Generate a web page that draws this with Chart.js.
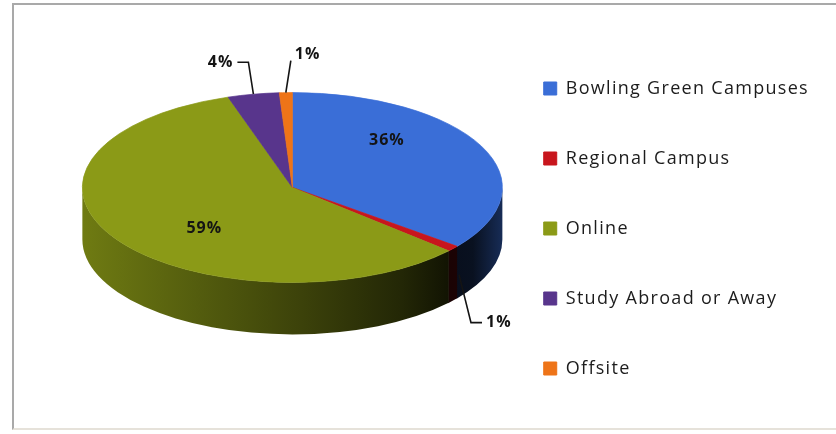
<!DOCTYPE html>
<html>
<head>
<meta charset="utf-8">
<script src="https://cdn.jsdelivr.net/npm/chart.js@4"></script>
<style>
  html, body { margin: 0; padding: 0; background: #fff; overflow: hidden; }
  #frame { position: absolute; left: 12px; top: 3px; width: 830px; height: 427px; border: 2px solid #a9a9a9; border-right: none; border-bottom-color: #e6e2da; box-sizing: border-box; }
  #wrap { position: absolute; left: 0; top: 0; width: 836px; height: 434px; }
</style>
</head>
<body>
<div id="frame"></div>
<div id="wrap"><canvas id="campusChart"></canvas></div>
<script>
const campuses = ['Bowling Green Campuses', 'Regional Campus', 'Online', 'Study Abroad or Away', 'Offsite'];
const shares = [36, 1, 59, 4, 1];
const sliceColors = ['#3a6ed7', '#c8161d', '#8b9a17', '#58358c', '#ee7418'];

// brightness of the pie's outer wall from left to right
const wallStops = [[0, 0.8], [0.28, 0.6], [0.52, 0.43], [0.76, 0.25], [0.87, 0.13], [0.93, 0.15], [1, 0.4]];

function shade(hex, f) {
  const n = parseInt(hex.slice(1), 16);
  const r = Math.round(((n >> 16) & 255) * f);
  const g = Math.round(((n >> 8) & 255) * f);
  const b = Math.round((n & 255) * f);
  return `rgb(${r},${g},${b})`;
}

// fake 3D: squash the pie into an ellipse and paint a shaded rim underneath
const pie3d = {
  id: 'pie3d',
  beforeUpdate(chart) { chart.ctx.letterSpacing = '1.3px'; },
  beforeDraw(chart) { chart.ctx.letterSpacing = '1.3px'; },
  beforeDatasetsDraw(chart, args, opts) {
    const ctx = chart.ctx;
    const arcs = chart.getDatasetMeta(0).data;
    const {x, y, outerRadius: r} = arcs[0];
    const cy = y + opts.offsetY;
    const ry = r * opts.tilt;

    arcs.forEach((arc, i) => {
      const lo = Math.max(arc.startAngle, 0);
      const hi = Math.min(arc.endAngle + 0.004, Math.PI);
      if (lo >= hi) return;
      const grad = ctx.createLinearGradient(x - r, 0, x + r, 0);
      wallStops.forEach(([t, f]) => grad.addColorStop(t, shade(sliceColors[i], f)));
      ctx.beginPath();
      ctx.ellipse(x, cy, r, ry, 0, lo, hi);
      ctx.ellipse(x, cy + opts.depth, r, ry, 0, hi, lo, true);
      ctx.closePath();
      ctx.fillStyle = grad;
      ctx.fill();
    });

    ctx.save();
    ctx.translate(0, cy);
    ctx.scale(1, opts.tilt);
    ctx.translate(0, -y);
  },
  afterDatasetsDraw(chart, args, opts) {
    const ctx = chart.ctx;
    ctx.restore();

    const arcs = chart.getDatasetMeta(0).data;
    const {x, y, outerRadius: r} = arcs[0];
    const cy = y + opts.offsetY;
    const ry = r * opts.tilt;

    ctx.save();
    ctx.letterSpacing = '1px';
    ctx.font = 'bold 16px "Open Sans", sans-serif';
    ctx.fillStyle = '#141414';
    ctx.strokeStyle = '#141414';
    ctx.lineWidth = 1.6;
    ctx.textBaseline = 'middle';
    arcs.forEach((arc, i) => {
      const mid = (arc.startAngle + arc.endAngle) / 2;
      const cos = Math.cos(mid), sin = Math.sin(mid);
      const text = shares[i] + '%';
      if (shares[i] >= opts.insideMin) {
        ctx.textAlign = 'center';
        ctx.fillText(text, x + r * 0.5 * cos, cy - 8 + ry * 0.95 * sin);
        return;
      }
      // small slices get a leader line; a horizontal tail only when off to the side
      const side = cos > -0.1 ? 1 : -1;
      const front = sin > 0;
      const ax = x + r * cos + (front ? side * 6 : 0);
      const ey = cy + ry * sin;
      const ay = front ? ey + opts.depth / 2 : ey;
      const ky = front ? ey + opts.depth + 22 : ey - 32;
      const kx = ax + side * (front ? 12 : 5);
      const tx = Math.abs(cos) > 0.1 ? kx + side * 11 : kx;
      ctx.beginPath();
      ctx.moveTo(ax, ay);
      ctx.lineTo(kx, ky);
      ctx.lineTo(tx, ky);
      ctx.stroke();
      ctx.textAlign = side > 0 ? 'left' : 'right';
      ctx.fillText(text, tx + side * 4, tx === kx ? ky - 6 : ky);
    });
    ctx.restore();
  }
};

new Chart(document.getElementById('campusChart'), {
  type: 'pie',
  data: {
    labels: campuses,
    datasets: [{
      data: shares,
      backgroundColor: sliceColors,
      borderColor: sliceColors,
      borderWidth: 1,
      radius: 210,
      clip: false
    }]
  },
  options: {
    responsive: true,
    maintainAspectRatio: false,
    animation: false,
    events: [],
    layout: { padding: { left: 93, right: 17, top: 27, bottom: 4 } },
    plugins: {
      legend: {
        position: 'right',
        labels: {
          boxWidth: 13,
          boxHeight: 13,
          padding: 52,
          color: '#1c1c1c',
          font: { family: '"Open Sans", sans-serif', size: 18 }
        }
      },
      tooltip: { enabled: false },
      pie3d: { tilt: 0.452, depth: 52, offsetY: -41, insideMin: 10 }
    }
  },
  plugins: [pie3d]
});
</script>
</body>
</html>
